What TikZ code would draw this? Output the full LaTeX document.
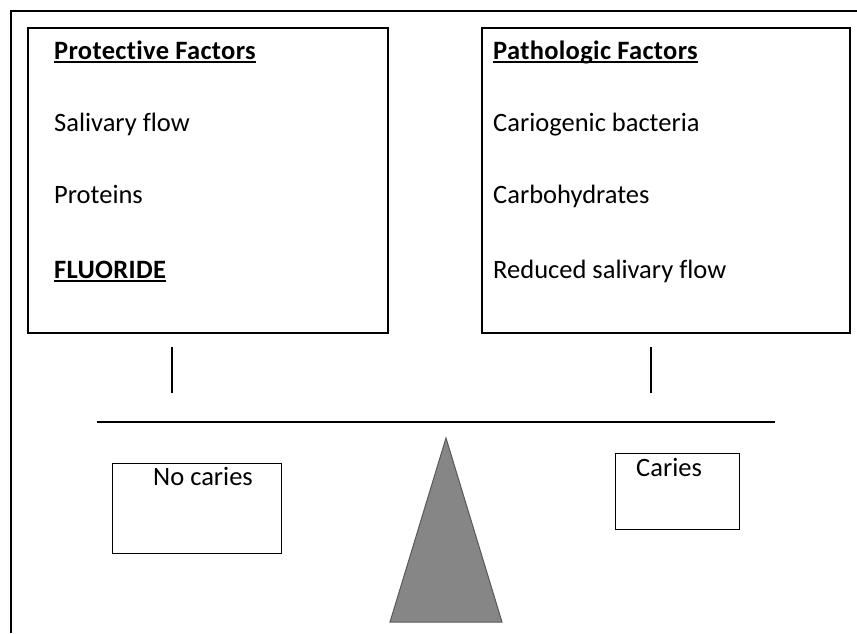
\documentclass[tikz,border=0pt]{standalone}
\usepackage{fontspec}
\setmainfont{Carlito}[Ligatures=NoCommon, BoldFeatures={LetterSpace=1.2}]
\newcommand\facul[1]{\setbox0\hbox{#1}\rlap{\rule[-3.5pt]{\wd0}{1.6pt}}\box0}
\begin{document}
\begin{tikzpicture}[x=1pt,y=-1pt,
  factorbox/.style={draw, line width=1.6pt, anchor=north west, inner sep=0pt},
  outcomebox/.style={draw, line width=1.2pt, anchor=north west, inner sep=0pt},
  label/.style={anchor=base west, inner sep=0pt, font=\fontsize{26.5}{30}\selectfont}]
\useasboundingbox (0,0) rectangle (857,633);
% frame
\draw[line width=2.2pt] (11,633) -- (11,11) -- (857,11);
% factor boxes
\node[factorbox, minimum width=360, minimum height=305] (prot) at (27,27) {};
\node[factorbox, minimum width=368, minimum height=305] (path) at (481,27) {};
\node[label] (prot0) at (54,59) {\bfseries\facul{Protective Factors}};
\node[label] (prot1) at (54,131) {Salivary flow};
\node[label] (prot2) at (54,203) {Proteins};
\node[label] (prot3) at (54,278) {\bfseries\facul{FLUORIDE}};
\node[label] (path0) at (493,59) {\bfseries\facul{Pathologic Factors}};
\node[label] (path1) at (493,131) {Cariogenic bacteria};
\node[label] (path2) at (493,203) {Carbohydrates};
\node[label] (path3) at (493,278) {Reduced salivary flow};
% balance
\coordinate (hangL) at (172,347);
\coordinate (hangLe) at (172,393);
\coordinate (hangR) at (651,347);
\coordinate (hangRe) at (651,393);
\coordinate (beamL) at (97,422);
\coordinate (beamR) at (775,422);
\draw[line width=1.1pt] (hangL) -- (hangLe);
\draw[line width=1.1pt] (hangR) -- (hangRe);
\draw[line width=1.3pt] (beamL) -- (beamR);
\draw[fill=gray!95, draw=gray!70!black, line width=1pt] (446,438) -- (502,622) -- (390,622) -- cycle;
% outcomes
\node[outcomebox, minimum width=169, minimum height=90] (nocar) at (112,463) {};
\node[outcomebox, minimum width=124, minimum height=76] (car) at (615,453) {};
\node[label] (nocart) at (153,485) {No caries};
\node[label] (cart) at (636,476) {Caries};
\end{tikzpicture}
\end{document}
